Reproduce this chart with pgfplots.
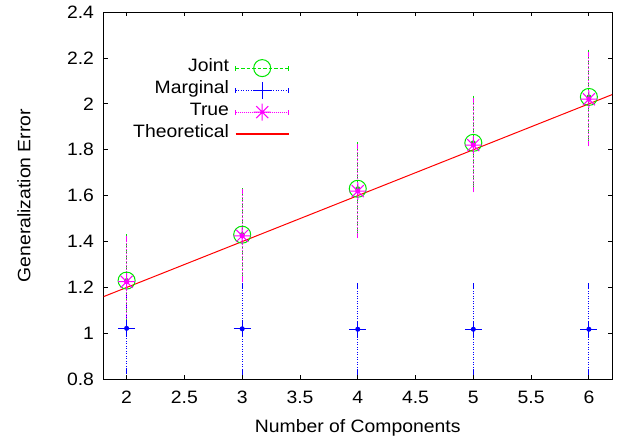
\documentclass[border=0pt]{standalone}
\usepackage{fontspec}
\setmainfont{Liberation Sans}[FakeStretch=1.08]
\usepackage{pgfplots}
\pgfplotsset{compat=1.18}

% gnuplot-like asterisk: plus and cross together
\pgfdeclareplotmark{gpstar}{%
  \pgfpathmoveto{\pgfqpoint{-\pgfplotmarksize}{0pt}}%
  \pgfpathlineto{\pgfqpoint{\pgfplotmarksize}{0pt}}%
  \pgfpathmoveto{\pgfqpoint{0pt}{-\pgfplotmarksize}}%
  \pgfpathlineto{\pgfqpoint{0pt}{\pgfplotmarksize}}%
  \pgfpathmoveto{\pgfqpoint{-0.7071\pgfplotmarksize}{-0.7071\pgfplotmarksize}}%
  \pgfpathlineto{\pgfqpoint{0.7071\pgfplotmarksize}{0.7071\pgfplotmarksize}}%
  \pgfpathmoveto{\pgfqpoint{-0.7071\pgfplotmarksize}{0.7071\pgfplotmarksize}}%
  \pgfpathlineto{\pgfqpoint{0.7071\pgfplotmarksize}{-0.7071\pgfplotmarksize}}%
  \pgfusepathqstroke}
\pgfdeclareplotmark{gpplus}{%
  \pgfpathmoveto{\pgfqpoint{-\pgfplotmarksize}{0pt}}%
  \pgfpathlineto{\pgfqpoint{\pgfplotmarksize}{0pt}}%
  \pgfpathmoveto{\pgfqpoint{0pt}{-\pgfplotmarksize}}%
  \pgfpathlineto{\pgfqpoint{0pt}{\pgfplotmarksize}}%
  \pgfusepathqstroke}

\definecolor{gpgreen}{rgb}{0,0.9,0}
\definecolor{gpblue}{rgb}{0,0,1}
\definecolor{gpmagenta}{rgb}{1,0,1}
\definecolor{gpred}{rgb}{1,0,0}

\pgfplotstableread{
x y e
2 1.230 0.190
3 1.430 0.192
4 1.630 0.192
5 1.830 0.195
6 2.030 0.195
}\joint
\pgfplotstableread{
x y e
2 1.022 0.190
3 1.020 0.190
4 1.018 0.190
5 1.018 0.190
6 1.018 0.190
}\marginal
\pgfplotstableread{
x y e
2 1.225 0.190
3 1.425 0.192
4 1.620 0.192
5 1.820 0.195
6 2.020 0.195
}\truedata

\tikzset{
  gpjoint/.style={dash pattern=on 3.5bp off 2bp},
  gpmarg/.style={dash pattern=on 1bp off 1.5bp},
  gptrue/.style={dash pattern=on 1bp off 1bp},
}
\pgfplotsset{
  errbars/.style 2 args={only marks, mark=none, forget plot, color=#1, line width=1bp,
    error bars/.cd, y dir=both, y explicit,
    error bar style={line width=1bp, #2},
    error mark options={solid, mark size=2.5bp, line width=1bp}},
}

\begin{document}
\begin{tikzpicture}
\begin{axis}[
    scale only axis,
    width=508.5bp, height=367.3bp,
    xmin=1.8, xmax=6.2, ymin=0.8, ymax=2.4,
    xtick distance=0.5, ytick distance=0.2,
    tick align=inside, major tick length=4.5bp,
    tick style={black, line width=0.8bp},
    axis line style={line width=0.8bp},
    font=\fontsize{18}{21}\selectfont,
    /pgf/number format/assume math mode=true,
    xticklabel style={yshift=-8bp},
    yticklabel style={xshift=-6bp},
    xlabel={Number of Components},
    ylabel={Generalization Error},
    xlabel style={at={(axis description cs:0.5,0)}, anchor=center, yshift=-49bp},
    ylabel style={at={(axis description cs:-0.1563,0.5)}, anchor=center},
    legend cell align=right,
    legend plot pos=right,
    legend style={draw=none, fill=none, at={(rel axis cs:0.366,0.875)},
        anchor=north east, inner sep=0pt, row sep=2bp,
        nodes={inner ysep=0pt, inner xsep=6bp, text height=13.5bp, text depth=6.5bp},
        font=\fontsize{18}{21}\selectfont},
]
% error bars first, each in its own dash style
\addplot[errbars={gpgreen}{gpjoint}] table[x=x, y=y, y error=e] {\joint};
\addplot[errbars={gpblue}{gpmarg}] table[x=x, y=y, y error=e] {\marginal};
\addplot[errbars={gpmagenta}{gptrue}] table[x=x, y=y, y error=e] {\truedata};

% the points
\addplot[only marks, color=gpgreen, mark=o, mark size=8.5bp, line width=1bp,
    legend image code/.code={
        \draw[color=gpgreen, line width=1bp, gpjoint] (0bp,0bp) -- (53bp,0bp);
        \draw[color=gpgreen, line width=1bp] (0bp,-2.5bp) -- (0bp,2.5bp) (53bp,-2.5bp) -- (53bp,2.5bp);
        \draw[color=gpgreen, line width=1bp] (26.5bp,0bp) circle[radius=8.5bp];
    }]
    table[x=x, y=y] {\joint};
\addlegendentry{Joint}
\addplot[only marks, color=gpblue, mark=gpplus, mark size=8.5bp, line width=1bp,
    legend image code/.code={
        \draw[color=gpblue, line width=1bp, gpmarg] (0bp,0bp) -- (53bp,0bp);
        \draw[color=gpblue, line width=1bp] (0bp,-2.5bp) -- (0bp,2.5bp) (53bp,-2.5bp) -- (53bp,2.5bp);
        \draw[color=gpblue, line width=1bp] (18bp,0bp) -- (35bp,0bp) (26.5bp,-8.5bp) -- (26.5bp,8.5bp);
    }]
    table[x=x, y=y] {\marginal};
\addlegendentry{Marginal}
\addplot[only marks, color=gpmagenta, mark=gpstar, mark size=8.5bp, line width=1bp,
    legend image code/.code={
        \draw[color=gpmagenta, line width=1bp, gptrue] (0bp,0bp) -- (53bp,0bp);
        \draw[color=gpmagenta, line width=1bp] (0bp,-2.5bp) -- (0bp,2.5bp) (53bp,-2.5bp) -- (53bp,2.5bp);
        \draw[color=gpmagenta, line width=1bp] (18bp,0bp) -- (35bp,0bp) (26.5bp,-8.5bp) -- (26.5bp,8.5bp)
            (20.5bp,-6bp) -- (32.5bp,6bp) (20.5bp,6bp) -- (32.5bp,-6bp);
    }]
    table[x=x, y=y] {\truedata};
\addlegendentry{True}
\addplot[color=gpred, line width=1bp,
    legend image code/.code={
        \draw[color=gpred, line width=1.4bp] (0bp,0bp) -- (53bp,0bp);
    }]
    coordinates {(1.8,1.16) (6.2,2.04)};
\addlegendentry{Theoretical}
\end{axis}
\pgfresetboundingbox
\path ([xshift=-103.5bp, yshift=-63.7bp]current axis.south west)
    rectangle ([xshift=9bp, yshift=12bp]current axis.north east);
\end{tikzpicture}
\end{document}
